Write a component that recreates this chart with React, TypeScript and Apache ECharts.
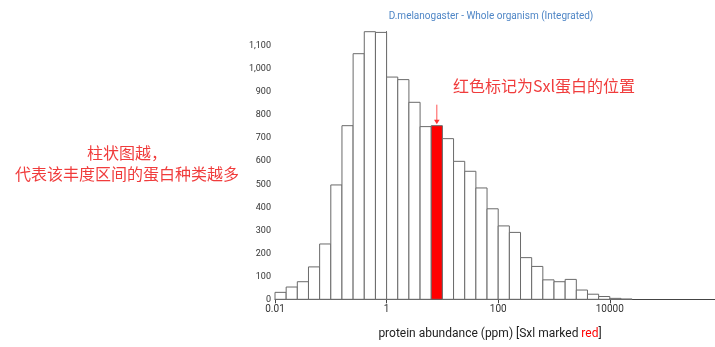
import React, { useEffect, useRef } from "react";
import * as echarts from "echarts";

// Histogram bins: log10(ppm) lower edge of the first bin and bin width in log10 units
const firstBinExp = -2;
const binWidthExp = 0.2;
// Number of proteins per abundance bin
const counts = [
  30, 53, 76, 140, 239, 494, 750, 1061, 1156, 1153, 960, 949, 851, 746, 750, 694,
  596, 553, 481, 391, 317, 289, 180, 142, 84, 76, 86, 40, 22, 12, 4, 1,
];
const markedBin = 14; // Sxl
const xTickStep = 2; // log10 units: 0.01, 1, 100, 10000
const yTickStep = 100;

const titleText = "D.melanogaster - Whole organism (Integrated)";
const noteRight = "红色标记为Sxl蛋白的位置";
const noteLeftLines = ["柱状图越，", "代表该丰度区间的蛋白种类越多"];

const FONT = "Roboto, 'Noto Sans CJK SC', sans-serif";
const CJK = "'Noto Sans CJK SC', sans-serif";
const NOTE_RED = "#f03c3c";

export default function App() {
  const ref = useRef<HTMLDivElement>(null);
  useEffect(() => {
    if (!ref.current) return;
    const chart = echarts.init(ref.current, undefined, { renderer: "svg" });
    const data = counts.map((c, i) => [
      firstBinExp + i * binWidthExp,
      firstBinExp + (i + 1) * binWidthExp,
      c,
      i === markedBin ? 1 : 0,
    ]);
    const yMax = Math.max(...counts);
    chart.setOption({
      animation: false,
      textStyle: { fontFamily: FONT },
      grid: { left: 275, top: 31.7, width: 446.4, bottom: 47.7, containLabel: false, outerBoundsMode: "none" },
      xAxis: {
        type: "value",
        min: -2,
        max: 6,
        interval: xTickStep,
        axisLine: { show: true, lineStyle: { color: "#444", width: 1 } },
        axisTick: { show: true, length: 4, lineStyle: { color: "#444" } },
        axisLabel: {
          color: "#333",
          fontSize: 10,
          margin: 4,
          showMaxLabel: false,
          formatter: (v: number) => {
            const p = Math.pow(10, v);
            return p < 1 ? p.toFixed(2) : String(Math.round(p));
          },
        },
        splitLine: { show: false },
      },
      yAxis: {
        type: "value",
        min: 0,
        max: yMax,
        interval: yTickStep,
        axisLine: { show: true, lineStyle: { color: "#444", width: 1 } },
        axisTick: { show: true, length: 4, lineStyle: { color: "#444" } },
        axisLabel: {
          color: "#333",
          fontSize: 9,
          margin: 4,
          showMaxLabel: false,
          formatter: (v: number) => v.toLocaleString("en-US"),
        },
        splitLine: { show: false },
      },
      series: [
        {
          type: "custom",
          data,
          renderItem: (params: any, api: any) => {
            const x0 = api.value(0);
            const x1 = api.value(1);
            const c = api.value(2);
            const red = api.value(3) === 1;
            const p0 = api.coord([x0, c]);
            const p1 = api.coord([x1, 0]);
            return {
              type: "rect",
              shape: { x: p0[0], y: p0[1], width: p1[0] - p0[0], height: p1[1] - p0[1] },
              style: { fill: red ? "#ff0000" : "#ffffff", stroke: "#6a6a6a", lineWidth: 1 },
            };
          },
        },
      ],
    });

    const markCenter = firstBinExp + (markedBin + 0.5) * binWidthExp;
    const top = chart.convertToPixel({ gridIndex: 0 }, [markCenter, counts[markedBin]]) as number[];
    const ax = top[0];
    const ay = top[1];

    chart.setOption({
      graphic: [
        {
          type: "text",
          x: 491,
          y: 15,
          style: { text: titleText, fill: "#4f86c6", fontSize: 10, fontFamily: FONT, textAlign: "center", textVerticalAlign: "middle" },
        },
        {
          type: "text",
          x: 490,
          y: 333,
          style: {
            text: "protein abundance (ppm) [Sxl marked {r|red}]",
            fill: "#222",
            fontSize: 12,
            fontFamily: FONT,
            textAlign: "center",
            textVerticalAlign: "middle",
            rich: { r: { fill: "#ff0000", fontSize: 12, fontFamily: FONT } },
          },
        },
        {
          type: "text",
          x: 544,
          y: 85,
          style: { text: noteRight, fill: NOTE_RED, fontSize: 16, fontFamily: CJK, textAlign: "center", textVerticalAlign: "middle" },
        },
        {
          type: "text",
          x: 127,
          y: 162.5,
          style: {
            text: noteLeftLines.join("\n"),
            fill: NOTE_RED,
            fontSize: 16,
            lineHeight: 21.6,
            fontFamily: CJK,
            align: "center",
            textAlign: "center",
            textVerticalAlign: "middle",
          },
        },
        {
          type: "line",
          shape: { x1: ax, y1: ay - 21, x2: ax, y2: ay - 5 },
          style: { stroke: "#f55", lineWidth: 1 },
        },
        {
          type: "polygon",
          shape: { points: [[ax - 2.8, ay - 6], [ax + 2.8, ay - 6], [ax, ay - 1.5]] },
          style: { fill: "#f33" },
        },
      ],
    });
    return () => chart.dispose();
  }, []);
  return <div ref={ref} style={{ position: "fixed", left: 0, top: 0, width: 715, height: 347 }} />;
}
